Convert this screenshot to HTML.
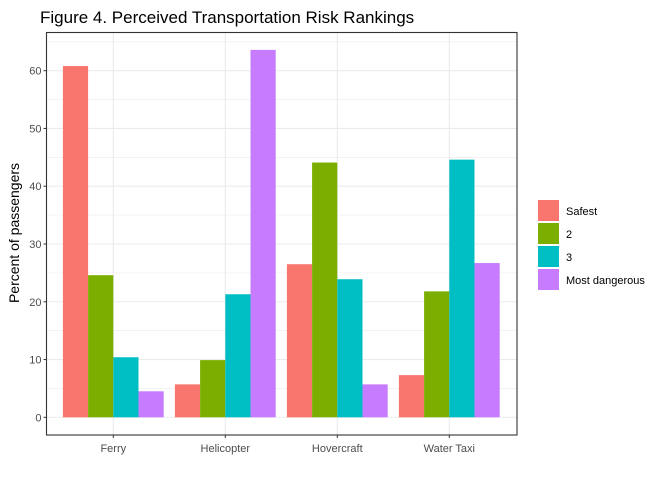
<!DOCTYPE html>
<html><head><meta charset="utf-8"><style>
body{margin:0;background:#fff;font-family:"Liberation Sans",sans-serif}
</style></head><body>
<svg id="c" width="672" height="480" xmlns="http://www.w3.org/2000/svg">
<text x="40" y="23" font-size="17" fill="#000">Figure 4. Perceived Transportation Risk Rankings</text>
<g id="grid"></g><g id="bars"></g><g id="axes"></g><g id="legend"></g>
<text transform="translate(19,233) rotate(-90)" text-anchor="middle" font-size="14" fill="#000">Percent of passengers</text>
</svg>
<script>
const categories=["Ferry","Helicopter","Hovercraft","Water Taxi"];
const seriesNames=["Safest","2","3","Most dangerous"];
const safest=[60.8,5.7,26.5,7.3];
const rank2=[24.6,9.9,44.1,21.8];
const rank3=[10.4,21.3,23.9,44.6];
const mostDangerous=[4.5,63.6,5.7,26.7];
const yTicks=[0,10,20,30,40,50,60];
const series=[safest,rank2,rank3,mostDangerous];
const colors=["#F8766D","#7CAE00","#00BFC4","#C77CFF"];
const NS="http://www.w3.org/2000/svg";
const L=46.5,R=517,T=32.5,B=435;
const y=v=>417.3-v*5.777;
const xc=i=>113.3+i*112;
function mk(t,a,p){const e=document.createElementNS(NS,t);for(const k in a)e.setAttribute(k,a[k]);p.appendChild(e);return e;}
const grid=document.getElementById('grid'),bars=document.getElementById('bars'),axes=document.getElementById('axes'),leg=document.getElementById('legend');
for(let v=-5;v<=65;v+=5){const yy=y(v);if(yy<T||yy>B)continue;const g=mk('line',{x1:L,x2:R,y1:yy,y2:yy,stroke:'#ebebeb','stroke-width':v%10===0?1.1:0.6},grid);}
categories.forEach((c,i)=>{const g=mk('line',{x1:xc(i),x2:xc(i),y1:T,y2:B,stroke:'#ebebeb','stroke-width':1.1},grid);});
const bw=25.2;
series.forEach((s,j)=>s.forEach((v,i)=>{const x0=xc(i)-2*bw+j*bw;const r=mk('rect',{x:x0,y:y(v),width:bw,height:y(0)-y(v),fill:colors[j]},bars);}));
const fr=mk('rect',{x:L,y:T,width:R-L,height:B-T,fill:'none',stroke:'#333','stroke-width':1.1},axes);
yTicks.forEach(v=>{mk('line',{x1:L-3,x2:L,y1:y(v),y2:y(v),stroke:'#333'},axes);const t=mk('text',{x:L-5,y:y(v)+4,'text-anchor':'end','font-size':11,fill:'#4d4d4d'},axes);t.textContent=v;});
categories.forEach((c,i)=>{mk('line',{x1:xc(i),x2:xc(i),y1:B,y2:B+3,stroke:'#333'},axes);const t=mk('text',{x:xc(i),y:B+17,'text-anchor':'middle','font-size':11,fill:'#4d4d4d'},axes);t.textContent=c;});
seriesNames.forEach((n,j)=>{const yy=199+j*23;const r=mk('rect',{x:538,y:yy+1,width:21,height:21,fill:colors[j]},leg);const t=mk('text',{x:566,y:yy+16,'font-size':11,fill:'#000'},leg);t.textContent=n;});
</script>
</body></html>
